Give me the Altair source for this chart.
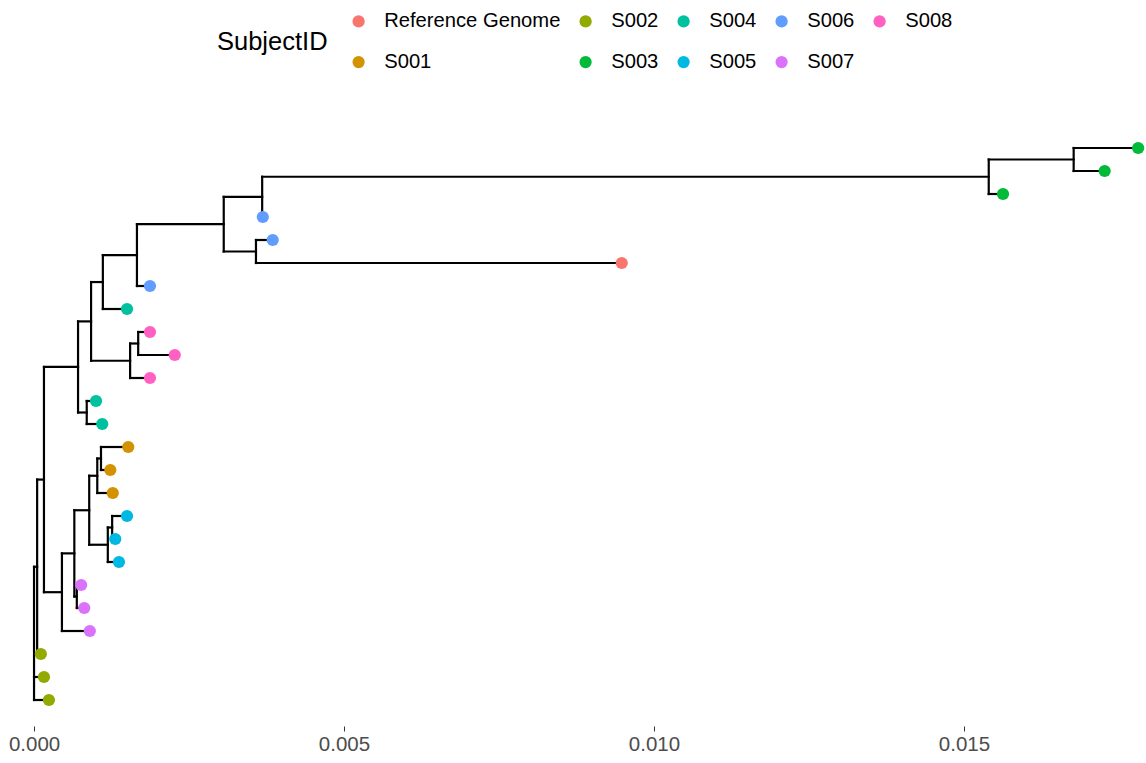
import altair as alt
import pandas as pd

# ---- tree data ----
inner_ids = ["root", "T", "K", "I", "F", "E", "D", "B", "A", "V", "W", "C",
             "G", "H", "J", "L", "M", "N", "O", "Q", "R", "P", "S"]
inner_parent = [None, "root", "T", "K", "I", "F", "E", "D", "B", "A", "V", "B",
                "F", "G", "I", "K", "L", "M", "M", "O", "Q", "O", "P"]
inner_x = [0.0, 0.00005, 0.00016, 0.00071, 0.00092, 0.00111, 0.00166, 0.00306,
           0.00368, 0.01540, 0.01677, 0.00358, 0.00155, 0.00168, 0.00085,
           0.00045, 0.00065, 0.00069, 0.00089, 0.00102, 0.00108, 0.00119, 0.00126]

# tips, listed top to bottom
tip_subject = ["S003", "S003", "S003", "S006", "S006", "Reference Genome", "S006",
               "S004", "S008", "S008", "S008", "S004", "S004", "S001", "S001",
               "S001", "S005", "S005", "S005", "S007", "S007", "S007", "S002",
               "S002", "S002"]
tip_parent = ["W", "W", "V", "A", "C", "C", "D", "E", "H", "H", "G", "J", "J",
              "R", "R", "Q", "S", "S", "P", "N", "N", "L", "T", "root", "root"]
tip_x = [0.01781, 0.01727, 0.01563, 0.00369, 0.00385, 0.00948, 0.00187, 0.00150,
         0.00187, 0.00227, 0.00187, 0.00100, 0.00110, 0.00152, 0.00123, 0.00127,
         0.00150, 0.00131, 0.00137, 0.00076, 0.00081, 0.00090, 0.00011, 0.00016,
         0.00024]

legend_order = ["Reference Genome", "S002", "S004", "S006", "S008",
                "S001", "S003", "S005", "S007"]
legend_colors = ["#F8766D", "#93AA00", "#00C19F", "#619CFF", "#FF61C3",
                 "#D39200", "#00BA38", "#00B9E3", "#DB72FB"]
x_ticks = [0.0, 0.005, 0.010, 0.015]

# ---- rectangular tree layout ----
n_tip = len(tip_subject)
tip_ids = [f"tip{i + 1}" for i in range(n_tip)]
parent = dict(zip(inner_ids, inner_parent))
parent.update(dict(zip(tip_ids, tip_parent)))
xpos = dict(zip(inner_ids, inner_x))
xpos.update(dict(zip(tip_ids, tip_x)))
ypos = {t: float(n_tip - i) for i, t in enumerate(tip_ids)}
children = {k: [] for k in inner_ids}
for node, p in parent.items():
    if p is not None:
        children[p].append(node)
while len(ypos) < len(parent):
    for k in inner_ids:
        if k not in ypos and all(c in ypos for c in children[k]):
            ypos[k] = sum(ypos[c] for c in children[k]) / len(children[k])

segs = []
for node, p in parent.items():
    if p is not None:
        segs.append(dict(x=xpos[p], x2=xpos[node], y=ypos[node], y2=ypos[node]))
for k in inner_ids:
    cy = [ypos[c] for c in children[k]]
    segs.append(dict(x=xpos[k], x2=xpos[k], y=min(cy), y2=max(cy)))
seg_df = pd.DataFrame(segs)
tip_df = pd.DataFrame({"x": tip_x, "y": [ypos[t] for t in tip_ids],
                       "SubjectID": tip_subject})

FONT = "Liberation Sans"
xs = alt.Scale(domain=[-0.00042, 0.01784], nice=False, zero=False)
ys = alt.Scale(domain=[-0.1304, 27.087], nice=False, zero=False)

xaxis = alt.Axis(values=x_ticks, format=".3f", grid=False, domain=False,
                 tickColor="#333333", tickSize=5, labelColor="#4D4D4D",
                 labelFontSize=20.5, labelFont=FONT, labelPadding=3, title=None)

lines = alt.Chart(seg_df).mark_rule(color="black", strokeWidth=2.2,
                                    strokeCap="square").encode(
    x=alt.X("x:Q", scale=xs, axis=xaxis),
    x2="x2:Q",
    y=alt.Y("y:Q", scale=ys, axis=None),
    y2="y2:Q",
)

points = alt.Chart(tip_df).mark_circle(size=150, opacity=1).encode(
    x=alt.X("x:Q", scale=xs),
    y=alt.Y("y:Q", scale=ys),
    color=alt.Color("SubjectID:N",
                    scale=alt.Scale(domain=legend_order, range=legend_colors),
                    legend=alt.Legend(
                        orient="none", legendX=209, legendY=-89,
                        direction="horizontal", columns=5,
                        title="SubjectID", titleOrient="left",
                        titleAnchor="middle", titleBaseline="middle",
                        titleFontSize=25.5, titleFontWeight="normal",
                        titleColor="black", titleFont=FONT, titlePadding=20.5,
                        labelFontSize=20.2, labelFont=FONT, labelColor="black",
                        labelLimit=400,
                        symbolType="circle", symbolSize=150,
                        symbolStrokeWidth=0, symbolOpacity=1,
                        labelOffset=15.5, columnPadding=15, rowPadding=20)),
)

chart = (lines + points).properties(
    width=1132, height=626,
    padding={"left": 8, "top": 100, "right": 6, "bottom": 37},
    autosize=alt.AutoSizeParams(type="none"),
    background="white",
).configure_view(stroke=None)

chart.save("out.html", embed_options={"renderer": "svg", "actions": False})
